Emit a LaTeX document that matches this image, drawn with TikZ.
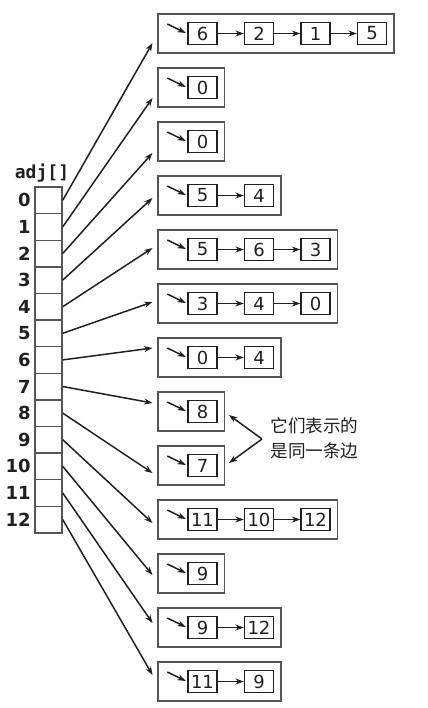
\documentclass[tikz,border=0pt]{standalone}
\usepackage{fontspec}
\setmainfont{DejaVu Sans}
\setsansfont{DejaVu Sans}
\setmonofont{DejaVu Sans Mono}
\newfontfamily\cjk{Noto Sans CJK SC}
\definecolor{adjink}{RGB}{35,31,32}
\definecolor{adjgray}{RGB}{85,85,85}
\usetikzlibrary{arrows.meta,calc}

\tikzset{
  cell/.style={draw=adjgray, line width=0.7pt, minimum width=13.5pt, minimum height=13.3pt, inner sep=0pt},
  idx/.style={font=\bfseries\fontsize{9}{9}\selectfont, text=adjink, anchor=east, inner sep=0pt},
  listbox/.style={draw=adjgray, line width=0.75pt, minimum height=19.5pt, inner sep=0pt, anchor=west},
  vbox/.style={draw=adjink, line width=0.7pt, minimum width=14.5pt, minimum height=11pt, inner sep=0pt, font=\fontsize{9}{9}\selectfont, text=adjink},
  link/.style={-{Stealth[length=4.2pt,width=3pt]}, adjink, line width=0.75pt},
}

\begin{document}
\begin{tikzpicture}[x=0.5pt, y=-0.5pt]
  \useasboundingbox (0,0) rectangle (428,708);
  % the array
  \node[font=\ttfamily\bfseries\fontsize{9}{9}\selectfont, text=adjink] (adjlbl) at (42,173) {adj[]};
  \foreach \i in {0,...,12} {
    \node[cell] (c\i) at (48.5,{200.3+26.6*\i}) {};
    \node[idx] (n\i) at (31,{200.3+26.6*\i}) {\i};
  }
  % the lists
  \foreach \i/\len/\vals/\dy in {0/4/{6,2,1,5}/9.5, 1/1/{0}/10.5, 2/1/{0}/11.5,
      3/2/{5,4}/2.5, 4/3/{5,6,3}/-1.5, 5/3/{3,4,0}/-1.5, 6/2/{0,4}/-9.5,
      7/1/{8}/-8.5, 8/1/{7}/7.5, 9/3/{11,10,12}/3.5, 10/1/{9}/1.5,
      11/2/{9,12}/-4.5, 12/2/{11,9}/-6.5} {
    \pgfmathsetmacro\w{(66.5+56.5*(\len-1))*0.5}
    \node[listbox, minimum width=\w pt] (l\i) at (157,{33.5+54*\i}) {};
    \foreach \v [count=\j] in \vals {
      \node[vbox] (v\i-\j) at ({202.5+56.5*(\j-1)},{33.5+54*\i}) {\v};
      \ifnum\j>1
        \pgfmathtruncatemacro\k{\j-1}
        \draw[link] (v\i-\k) -- (v\i-\j);
      \fi
    }
    \draw[link] ($(v\i-1.west)+(-20,-9.5)$) -- ($(v\i-1.west)+(-1.5,-0.5)$);
    \draw[link] (c\i.east) -- ($(l\i.west)+(-4.5,\dy)$);
  }
  % the note
  \node[font=\cjk\fontsize{8.8}{12.5}\selectfont, align=left, anchor=west, inner sep=0pt, text=adjink] (note) at (270,438) {它们表示的\\是同一条边};
  \coordinate (apex) at ($(note.west)+(-8,1)$);
  \draw[link] (apex) -- ($(l7.east)+(4,3.5)$);
  \draw[link] (apex) -- ($(l8.east)+(4,-2.5)$);
\end{tikzpicture}
\end{document}
